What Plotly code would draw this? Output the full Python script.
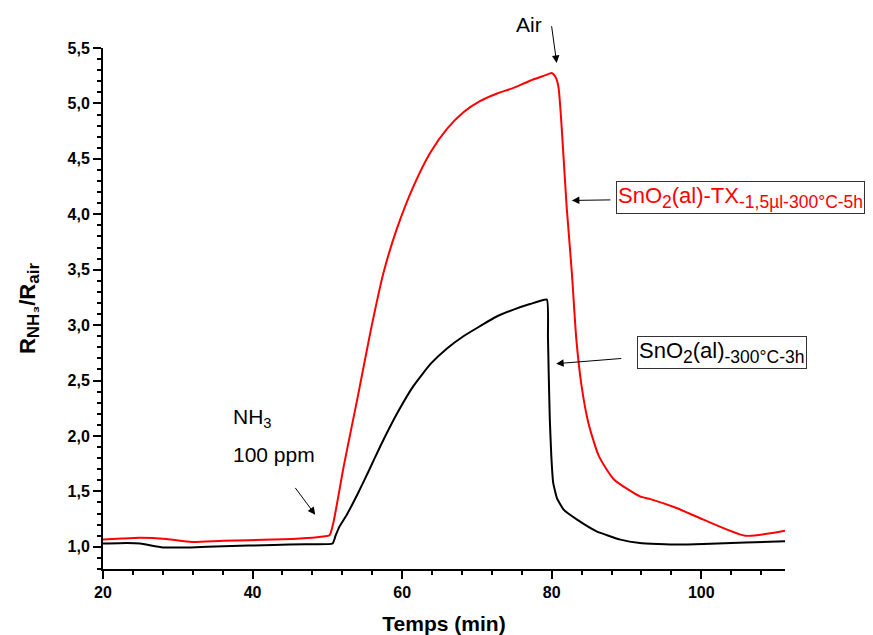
import plotly.graph_objects as go

# --- Data ---
red_x = [20, 22.5, 25, 28.5, 31.9, 36.1, 42.8, 47.3, 49.5, 50.3, 50.8, 52.2, 54.0, 55.8, 57.5,
         59.3, 61.5, 63.8, 66.0, 68.2, 70.4, 72.7, 74.9, 77.1, 79.2, 80.0, 80.5, 80.9, 81.2,
         81.6, 82.0, 82.7, 83.3, 84.0, 84.9, 86.3, 88.3, 91.8, 93.2, 96.7, 100.3, 105.9, 111.2]
red_y = [1.065, 1.075, 1.082, 1.07, 1.043, 1.055, 1.065, 1.08, 1.094, 1.105, 1.215, 1.73, 2.33,
         2.95, 3.47, 3.87, 4.25, 4.56, 4.77, 4.92, 5.02, 5.09, 5.14, 5.205, 5.255, 5.275, 5.24,
         5.15, 4.92, 4.5, 4.07, 3.47, 2.87, 2.45, 2.12, 1.82, 1.61, 1.455, 1.43, 1.35, 1.245,
         1.10, 1.145]

black_x = [20, 23.2, 25, 28, 31.7, 36.1, 42.8, 47, 50.7, 51.1, 51.6, 52.6, 54.0, 55.5, 57.1,
           59.3, 61.5, 63.8, 66.0, 68.2, 70.4, 72.7, 74.9, 77.1, 79.35, 79.5, 79.6, 79.75,
           79.95, 80.2, 80.7, 81.6, 83.4, 86.0, 89.2, 91.8, 96.7, 100.3, 105.9, 111.2]
black_y = [1.03, 1.035, 1.03, 0.995, 0.995, 1.005, 1.017, 1.024, 1.03, 1.10, 1.18, 1.29, 1.47,
           1.68, 1.91, 2.20, 2.45, 2.65, 2.79, 2.90, 2.99, 3.08, 3.14, 3.19, 3.23, 2.9, 2.57,
           2.15, 1.82, 1.58, 1.44, 1.335, 1.245, 1.14, 1.065, 1.035, 1.02, 1.025, 1.04, 1.05]

x_ticks = [20, 40, 60, 80, 100]
y_ticks = [1.0, 1.5, 2.0, 2.5, 3.0, 3.5, 4.0, 4.5, 5.0, 5.5]

SUB = "<sub><span style='font-size:17.5px'>{}</span></sub>"
red_label = "SnO" + SUB.format("2") + "(al)-TX" + SUB.format("-1,5µl-300°C-5h")
black_label = "SnO" + SUB.format("2") + "(al)" + SUB.format("-300°C-3h")
YSUB = "<sub><span style='font-size:17px'>{}</span></sub>"
y_title = "R" + YSUB.format("NH₃") + "/R" + YSUB.format("air")

FONT = "Liberation Sans, Arial, sans-serif"

fig = go.Figure()
fig.add_trace(go.Scatter(x=black_x, y=black_y, mode="lines",
                         line=dict(color="black", width=2, shape="spline", smoothing=0.4),
                         name="black"))
fig.add_trace(go.Scatter(x=red_x, y=red_y, mode="lines",
                         line=dict(color="#ff0000", width=2, shape="spline", smoothing=0.6),
                         name="red"))

axis_common = dict(showline=True, linecolor="black", linewidth=2, showgrid=False,
                   zeroline=False, ticks="outside", ticklen=8, tickwidth=2, tickcolor="black",
                   automargin=False,
                   tickfont=dict(family=FONT, size=16, color="black", weight="bold"))

fig.update_xaxes(range=[20, 111.2], tickvals=x_ticks, tickformat="d",
                 minor=dict(dtick=4, tick0=20, ticks="outside", ticklen=4, tickwidth=2,
                            tickcolor="black"),
                 title=dict(text="Temps (min)", standoff=20,
                            font=dict(family=FONT, size=21, color="black", weight="bold")),
                 **axis_common)
fig.update_yaxes(range=[0.8, 5.5], tickvals=y_ticks, tickformat=".1f",
                 minor=dict(dtick=0.1, tick0=0.8, ticks="outside", ticklen=4, tickwidth=2,
                            tickcolor="black"),
                 title=dict(text=y_title, standoff=26,
                            font=dict(family=FONT, size=22, color="black", weight="bold")),
                 **axis_common)

ann_font = dict(family=FONT, size=21, color="black")
arrow = dict(text="", showarrow=True, axref="x", ayref="y", arrowhead=2, arrowsize=1.5,
             arrowwidth=1, arrowcolor="black")
annotations = [
    # Air
    dict(x=77.03, xref="x", y=1.045, yref="paper", text="Air", showarrow=False,
         xanchor="center", yanchor="middle", font=ann_font),
    dict(x=80.67, y=5.365, ax=79.96, ay=5.71, **arrow),
    # NH3
    dict(x=37.1, y=2.16, text="NH<sub>3</sub>", showarrow=False, xanchor="left",
         yanchor="middle", font=ann_font),
    dict(x=37.1, y=1.83, text="100 ppm", showarrow=False, xanchor="left", yanchor="middle",
         font=ann_font),
    dict(x=48.38, y=1.29, ax=45.57, ay=1.545, **arrow),
    # red label box
    dict(x=88.62, y=4.15, text=red_label, showarrow=False, xanchor="left", yanchor="middle",
         font=dict(family=FONT, size=22, color="#ff0000"), bordercolor="#333333",
         borderwidth=1, borderpad=1, bgcolor="white"),
    dict(x=82.7, y=4.125, ax=88.05, ay=4.13, **arrow),
    # black label box
    dict(x=91.47, y=2.753, text=black_label, showarrow=False, xanchor="left",
         yanchor="middle", font=dict(family=FONT, size=22, color="black"),
         bordercolor="#333333", borderwidth=1, borderpad=1, bgcolor="white"),
    dict(x=80.6, y=2.652, ax=89.5, ay=2.70, **arrow),
]

fig.update_layout(width=873, height=635, margin=dict(l=103, r=88, t=48, b=66, pad=0),
                  paper_bgcolor="white", plot_bgcolor="white", showlegend=False,
                  separators=",.", annotations=annotations,
                  font=dict(family=FONT, color="black"))

fig.write_html("out.html", config={"displayModeBar": False},
               post_script="document.body.style.margin='0';document.body.style.padding='0';"
                           "document.body.style.overflow='hidden';")
